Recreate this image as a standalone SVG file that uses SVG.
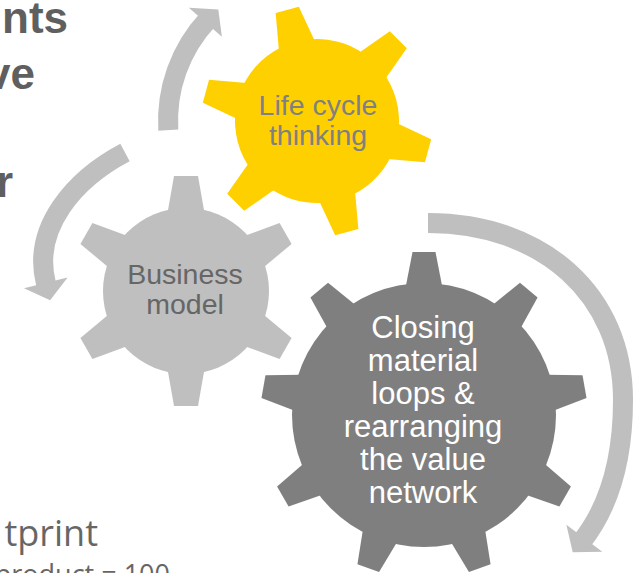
<svg xmlns="http://www.w3.org/2000/svg" xmlns:xlink="http://www.w3.org/1999/xlink" width="635" height="573" viewBox="0 0 635 573">
<style>
.bg{fill:#ffffff}
.title{font-family:"Liberation Sans",Arial,sans-serif;font-weight:bold;font-size:44px;fill:#5f5f5f}
.foot{font-family:"Open Sans","Noto Sans",sans-serif;fill:#666666}
.lbl{font-family:"Liberation Sans",Arial,sans-serif;text-anchor:middle}
.g-light{fill:#bfbfbf}
.g-yellow{fill:#ffd000}
.g-dark{fill:#7f7f7f}
.arc{fill:none;stroke:#bfbfbf;stroke-width:20;stroke-linecap:butt}
.head{fill:#bfbfbf}
</style>
<defs>
<polygon id="toothS" points="-18.5,-78 -12,-115 12,-115 18.5,-78"/>
<polygon id="toothL" points="-18.3,-128 -11.5,-163 11.5,-163 18.3,-128"/>
</defs>
<rect class="bg" x="0" y="0" width="635" height="573"/>

<text class="title" x="68" y="33" text-anchor="end">nts</text>
<text class="title" x="35" y="89" text-anchor="end">ve</text>
<text class="title" x="13" y="197" text-anchor="end">r</text>
<text class="foot" x="98" y="546" font-size="36" text-anchor="end">tprint</text>
<text class="foot" x="170" y="584" font-size="27" text-anchor="end">product = 100</text>

<g id="node-business">
<g class="g-light" transform="translate(186,291)">
<circle r="83"/>
<use xlink:href="#toothS"/>
<use xlink:href="#toothS" transform="rotate(60)"/>
<use xlink:href="#toothS" transform="rotate(120)"/>
<use xlink:href="#toothS" transform="rotate(180)"/>
<use xlink:href="#toothS" transform="rotate(240)"/>
<use xlink:href="#toothS" transform="rotate(300)"/>
</g>
<text class="lbl" font-size="28.5" fill="#666666"><tspan x="185" y="284">Business</tspan><tspan x="185" y="314">model</tspan></text>
</g>

<g id="node-lifecycle">
<g class="g-yellow" transform="translate(317,121) rotate(-15)">
<circle r="82"/>
<use xlink:href="#toothS"/>
<use xlink:href="#toothS" transform="rotate(60)"/>
<use xlink:href="#toothS" transform="rotate(120)"/>
<use xlink:href="#toothS" transform="rotate(180)"/>
<use xlink:href="#toothS" transform="rotate(240)"/>
<use xlink:href="#toothS" transform="rotate(300)"/>
</g>
<text class="lbl" font-size="28.5" fill="#808080"><tspan x="318" y="115">Life cycle</tspan><tspan x="318" y="145">thinking</tspan></text>
</g>

<g id="node-closing">
<g class="g-dark" transform="translate(424,415)">
<circle r="132"/>
<use xlink:href="#toothL"/>
<use xlink:href="#toothL" transform="rotate(40)"/>
<use xlink:href="#toothL" transform="rotate(80)"/>
<use xlink:href="#toothL" transform="rotate(120)"/>
<use xlink:href="#toothL" transform="rotate(160)"/>
<use xlink:href="#toothL" transform="rotate(200)"/>
<use xlink:href="#toothL" transform="rotate(240)"/>
<use xlink:href="#toothL" transform="rotate(280)"/>
<use xlink:href="#toothL" transform="rotate(320)"/>
</g>
<text class="lbl" font-size="31" fill="#ffffff"><tspan x="423" y="338">Closing</tspan><tspan x="423" y="371">material</tspan><tspan x="423" y="404">loops &amp;</tspan><tspan x="423" y="437">rearranging</tspan><tspan x="423" y="470">the value</tspan><tspan x="423" y="503">network</tspan></text>
</g>

<g id="connectors">
<path class="arc" d="M168.3,130.1 A149,149 0 0 1 208.0,19.4"/>
<polygon class="head" points="188.9,7.7 218.3,9.4 221.9,36.8"/>
<path class="arc" d="M125,152.5 C74.6,179.1 32.1,227.5 45.8,282.8 L46.8,286.8"/>
<polygon class="head" points="24,288.2 50.1,300.3 67.6,277.4"/>
<path class="arc" d="M428,223 C543,223 623,295 623,400 C623,450 612.4,503 581.4,542"/>
<polygon class="head" points="602.3,551.8 572.7,552.2 566.4,524.7"/>
</g>
</svg>
